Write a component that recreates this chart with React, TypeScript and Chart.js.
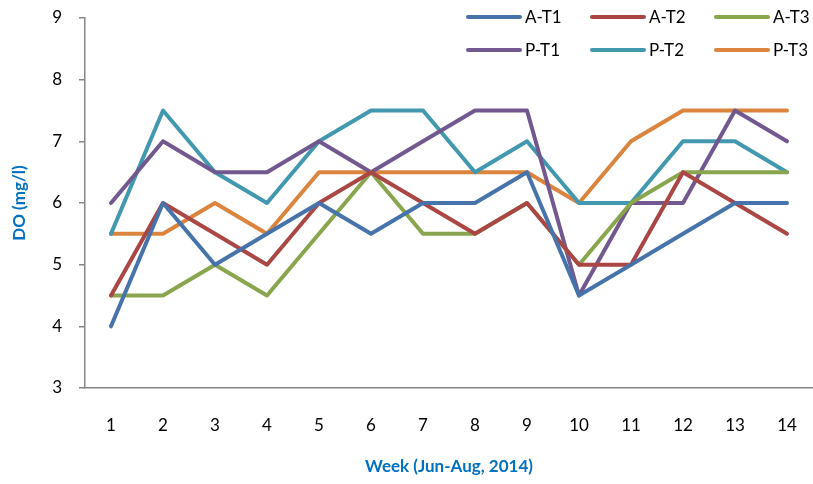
import React, { useEffect, useRef } from "react";
import { Chart, registerables } from "chart.js";

Chart.register(...registerables);

const weeks = ["1", "2", "3", "4", "5", "6", "7", "8", "9", "10", "11", "12", "13", "14"];
const aT1 = [4, 6, 5, 5.5, 6, 5.5, 6, 6, 6.5, 4.5, 5, 5.5, 6, 6];
const aT2 = [4.5, 6, 5.5, 5, 6, 6.5, 6, 5.5, 6, 5, 5, 6.5, 6, 5.5];
const aT3 = [4.5, 4.5, 5, 4.5, 5.5, 6.5, 5.5, 5.5, 6, 5, 6, 6.5, 6.5, 6.5];
const pT1 = [6, 7, 6.5, 6.5, 7, 6.5, 7, 7.5, 7.5, 4.5, 6, 6, 7.5, 7];
const pT2 = [5.5, 7.5, 6.5, 6, 7, 7.5, 7.5, 6.5, 7, 6, 6, 7, 7, 6.5];
const pT3 = [5.5, 5.5, 6, 5.5, 6.5, 6.5, 6.5, 6.5, 6.5, 6, 7, 7.5, 7.5, 7.5];
const seriesNames = ["A-T1", "A-T2", "A-T3", "P-T1", "P-T2", "P-T3"];
const seriesColors = ["#4673AA", "#AA4643", "#89A54E", "#71588F", "#4198AF", "#DB843D"];
const yTitle = "DO (mg/l)";
const xTitle = "Week (Jun-Aug, 2014)";

const FONT = "Lato, 'Open Sans', sans-serif";

const legendPlugin = {
  id: "customLegend",
  afterDraw(chart: any) {
    const ctx = chart.ctx;
    const colX = [468, 592, 716];
    const rowY = [17, 50];
    ctx.save();
    ctx.font = `17px ${FONT}`;
    ctx.textBaseline = "middle";
    ctx.textAlign = "left";
    chart.data.datasets.forEach((ds: any, i: number) => {
      const x = colX[i % 3];
      const y = rowY[Math.floor(i / 3)];
      ctx.strokeStyle = ds.borderColor;
      ctx.lineWidth = 4;
      ctx.lineCap = "round";
      ctx.beginPath();
      ctx.moveTo(x, y);
      ctx.lineTo(x + 52, y);
      ctx.stroke();
      ctx.fillStyle = "#000";
      ctx.fillText(ds.label, x + 57, y + 1);
    });
    ctx.restore();
  },
};

export default function App() {
  const ref = useRef<HTMLCanvasElement>(null);
  useEffect(() => {
    document.body.style.margin = "0";
    const values = [aT1, aT2, aT3, pT1, pT2, pT3];
    const chart = new Chart(ref.current!, {
      type: "line",
      data: {
        labels: weeks,
        datasets: values.map((v, i) => ({
          label: seriesNames[i],
          data: v,
          borderColor: seriesColors[i],
          backgroundColor: seriesColors[i],
          borderWidth: 4,
          pointRadius: 0,
          tension: 0,
          borderCapStyle: "round" as const,
          borderJoinStyle: "round" as const,
        })),
      },
      options: {
        responsive: false,
        animation: false,
        layout: { padding: { top: 18, right: -8, bottom: 0, left: 0 } },
        plugins: { legend: { display: false }, tooltip: { enabled: false } },
        scales: {
          x: {
            offset: true,
            grid: { display: false, drawTicks: false },
            border: { display: true, color: "#868686", width: 1.5 },
            ticks: { color: "#000", font: { family: FONT, size: 17 }, padding: 27, maxRotation: 0 },
            title: {
              display: true,
              text: xTitle,
              color: "#0070C0",
              font: { family: FONT, size: 17, weight: "bold" },
              padding: { top: 0, bottom: 7 },
            },
            afterFit(scale: any) {
              scale.height = 96;
              scale.paddingLeft = 0;
              scale.paddingRight = 0;
            },
          },
          y: {
            min: 3,
            max: 9,
            grid: { drawOnChartArea: false, drawTicks: true, tickLength: 6, color: "#868686", lineWidth: 1.5 },
            border: { display: true, color: "#868686", width: 1.5 },
            ticks: { stepSize: 1, color: "#000", font: { family: FONT, size: 17 }, padding: 17 },
            title: {
              display: true,
              text: yTitle,
              color: "#0070C0",
              font: { family: FONT, size: 17, weight: "bold" },
              padding: { top: 9, bottom: 0 },
            },
            afterFit(scale: any) {
              scale.width = 85;
              scale.paddingTop = 0;
              scale.paddingBottom = 0;
            },
          },
        },
      },
      plugins: [legendPlugin],
    });
    return () => chart.destroy();
  }, []);
  return <canvas ref={ref} width={813} height={484} />;
}
